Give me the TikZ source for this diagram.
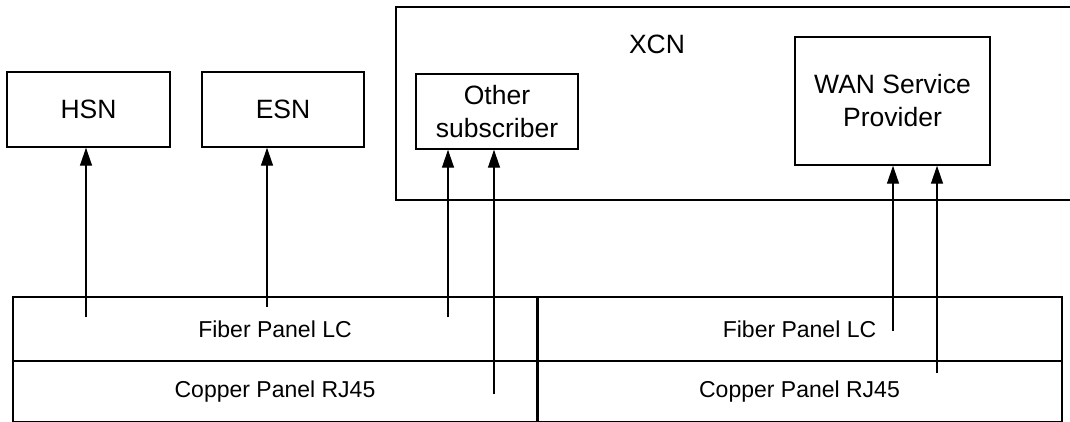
\documentclass[tikz,border=0pt]{standalone}
\usepackage{fontspec}
\setmainfont{Liberation Sans}
\usetikzlibrary{arrows.meta}
\begin{document}
\begin{tikzpicture}[x=1pt,y=-1pt,
  box/.style={draw, line width=1.4pt, rectangle, inner sep=0pt, align=center,
    font=\fontsize{26.5}{33}\selectfont},
  panel/.style={draw, line width=1.3pt, rectangle, inner sep=0pt,
    font=\fontsize{23}{27}\selectfont},
  arr/.style={line width=1.3pt, -{Triangle[length=18pt,width=12pt]}},
  big/.style={font=\fontsize{26.5}{33}\selectfont, inner sep=0pt}]
\useasboundingbox (0,0) rectangle (1070,421);
\clip (0,0) rectangle (1070,421);
% top boxes
\node[box, minimum width=163pt, minimum height=75pt] (hsn) at (88.5,109.5) {HSN};
\node[box, minimum width=162pt, minimum height=75pt] (esn) at (283,109.5) {ESN};
\node[box, minimum width=684pt, minimum height=193pt] (xcn) at (738,103.5) {};
\node[big] (xcnlabel) at (657,44) {XCN};
\node[box, minimum width=162pt, minimum height=75pt] (other) at (497,111.5) {Other\\subscriber};
\node[box, minimum width=195pt, minimum height=128pt] (wan) at (892.5,101) {WAN Service\\Provider};
% panels
\node[panel, minimum width=524pt, minimum height=64pt] (fibL) at (275,329) {Fiber Panel LC};
\node[panel, minimum width=524pt, minimum height=61pt] (copL) at (275,391.5) {Copper Panel RJ45};
\node[panel, minimum width=525pt, minimum height=64pt] (fibR) at (799.5,329) {Fiber Panel LC};
\node[panel, minimum width=525pt, minimum height=61pt] (copR) at (799.5,391.5) {Copper Panel RJ45};
\draw[line width=2pt] (fibL.north east) -- (copL.south east);
% arrow start points
\coordinate (h0) at (86,317);
\coordinate (e0) at (267,307);
\coordinate (o1) at (448,317);
\coordinate (o2) at (494,394);
\coordinate (w1) at (893,331);
\coordinate (w2) at (937,373);
\draw[arr] (h0) -- (h0 |- hsn.south);
\draw[arr] (e0) -- (e0 |- esn.south);
\draw[arr] (o1) -- (o1 |- other.south);
\draw[arr] (o2) -- (o2 |- other.south);
\draw[arr] (w1) -- (w1 |- wan.south);
\draw[arr] (w2) -- (w2 |- wan.south);
\end{tikzpicture}
\end{document}
